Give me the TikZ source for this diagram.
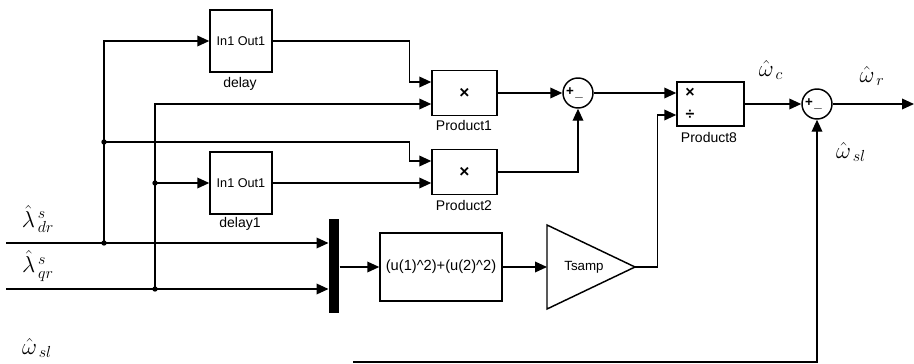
\documentclass[tikz,border=0pt]{standalone}
\usepackage{fontspec}
\setmainfont{Liberation Sans}
\usetikzlibrary{arrows.meta,calc}
\tikzset{every picture/.style={line width=0.75pt}}

\begin{document}
\begin{tikzpicture}[x=0.75pt,y=0.75pt,yscale=-1,xscale=1,
	blk/.style={draw,line width=1.1pt,inner sep=0pt,font=\fontsize{9.5}{10}\selectfont},
	prod/.style={blk,minimum width=48.75pt,minimum height=33.75pt,font=\bfseries\fontsize{13}{13}\selectfont},
	sig/.style={line width=1.1pt,-{Triangle[length=9pt,width=8pt]}},
	blkname/.style={inner sep=0pt,font=\fontsize{10.5}{12}\selectfont},
	sumc/.style={draw,circle,line width=1.1pt,minimum size=22.5pt,inner sep=0pt},
	sgn/.style={inner sep=0pt,font=\bfseries\fontsize{10}{10}\selectfont},
	jdot/.style={circle,fill,inner sep=0pt,minimum size=4pt},
	sym/.style={inner sep=0pt,font=\fontsize{17}{20}\selectfont}]
	\useasboundingbox (0,0) rectangle (914,364);

	%Shape: Rectangle [delay blocks]
	\node[blk,minimum width=46.5pt,minimum height=46.5pt] (delay) at (241,41) {In1 Out1};
	\node[blkname] (delaylbl) at (240,84) {delay};
	\node[blk,minimum width=46.5pt,minimum height=46.5pt] (delay1) at (241,183) {In1 Out1};
	\node[blkname] (delay1lbl) at (240,224) {delay1};

	%Shape: Rectangle [products]
	\node[prod] (p1) at (464.5,93) {×};
	\node[blkname] (p1lbl) at (464,125) {Product1};
	\node[prod] (p2) at (464.5,172) {×};
	\node[blkname] (p2lbl) at (464,205) {Product2};
	\node[blk,minimum width=50.25pt,minimum height=33pt] (p8) at (710.5,104) {};
	\node[blkname] (p8lbl) at (709,137) {Product8};
	\node[sgn,font=\bfseries\fontsize{12}{12}\selectfont] (p8mul) at (690,93) {×};
	\node[sgn,font=\bfseries\fontsize{12}{12}\selectfont] (p8div) at (690,115) {÷};

	%input ports
	\coordinate (p1a) at ($(p1.west)+(0,-11)$);
	\coordinate (p1b) at ($(p1.west)+(0,11)$);
	\coordinate (p2a) at ($(p2.west)+(0,-11)$);
	\coordinate (p2b) at ($(p2.west)+(0,11)$);
	\coordinate (p8a) at ($(p8.west)+(0,-11)$);
	\coordinate (p8b) at ($(p8.west)+(0,11)$);

	%Shape: Circle [sums]
	\node[sumc] (s1) at (578,93) {};
	\node[sgn] (s1p) at (570,92) {+};
	\node[sgn] (s1m) at (579,97) {\_};
	\node[sumc] (s2) at (817,104) {};
	\node[sgn] (s2p) at (809,103) {+};
	\node[sgn] (s2m) at (818,108) {\_};

	%Shape: Mux bar, Fcn and Gain
	\node[fill,minimum width=7.5pt,minimum height=70.5pt,inner sep=0pt] (mux) at (334,266) {};
	\node[blk,minimum width=91.5pt,minimum height=51pt,font=\fontsize{11}{12}\selectfont] (fcn) at (441,267) {(u(1)\textasciicircum 2)+(u(2)\textasciicircum 2)};
	\draw[line width=1.1pt] (547,225) -- (635,267) -- (547,309) -- cycle;
	\node[inner sep=0pt,font=\fontsize{10}{10}\selectfont] (tsamp) at (584,267) {Tsamp};
	\coordinate (gin) at (547,267);
	\coordinate (gout) at (635,267);

	%free ends
	\coordinate (ldr) at (6,243);
	\coordinate (lqr) at (6,289);
	\coordinate (wsl) at (353,362);
	\coordinate (wr) at (914,104);
	\coordinate (ta) at (104,243);
	\coordinate (ta2) at (104,142);
	\coordinate (tb) at (155,289);
	\coordinate (tb2) at (155,183);

	%Straight Lines
	\draw[sig] (ldr) -- (ldr -| mux.west);
	\draw[sig] (lqr) -- (lqr -| mux.west);
	\draw[sig] (ta) |- (delay.west);
	\draw[sig] (tb) |- (p1b);
	\draw[sig] (ta2) -| ([xshift=-16.5pt]p2a) -- (p2a);
	\draw[sig] (delay.east) -| ([xshift=-16.5pt]p1a) -- (p1a);
	\draw[sig] (tb2) -- (delay1.west);
	\draw[sig] (delay1.east) -- (p2b);
	\draw[sig] (p1.east) -- (s1.west);
	\draw[sig] (p2.east) -| (s1.south);
	\draw[sig] (s1.east) -- (p8a);
	\draw[sig] (mux.east |- fcn.west) -- (fcn.west);
	\draw[sig] (fcn.east) -- (gin);
	\draw[sig] (gout) -| ([xshift=-14.25pt]p8b) -- (p8b);
	\draw[sig] (p8.east) -- (s2.west);
	\draw[sig] (s2.east) -- (wr);
	\draw[sig] (wsl) -| (s2.south);

	%junctions
	\foreach \j in {ta,ta2,tb,tb2}
		\node[jdot] (dot-\j) at (\j) {};

	% Text Node
	\node[sym] (ldrlbl) at (38,219) {$\hat{\lambda}^{\,s}_{\,dr}$};
	\node[sym] (lqrlbl) at (38,266) {$\hat{\lambda}^{\,s}_{\,qr}$};
	\node[sym] (wsllbl) at (37,348) {$\hat{\omega}_{\,sl}$};
	\node[sym] (wclbl) at (771,70) {$\hat{\omega}_{\,c}$};
	\node[sym] (wrlbl) at (872,76) {$\hat{\omega}_{\,r}$};
	\node[sym] (wsl2lbl) at (851,152) {$\hat{\omega}_{\,sl}$};

\end{tikzpicture}
\end{document}
